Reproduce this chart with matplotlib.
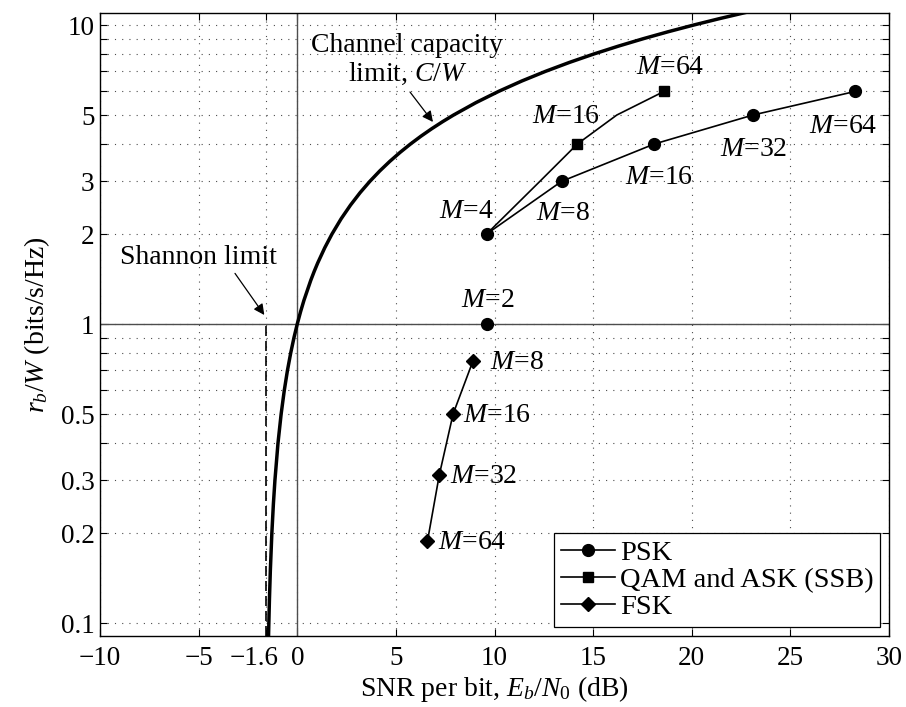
import matplotlib
matplotlib.use('Agg')
import matplotlib.pyplot as plt
from matplotlib.ticker import FixedLocator, NullFormatter
from matplotlib.transforms import ScaledTranslation

# capacity limit C/W: rate (bits/s/Hz) and Eb/N0 (dB)
cap_rate = [0.09, 0.1, 0.12, 0.15, 0.2, 0.25, 0.3, 0.4, 0.5, 0.6, 0.7, 0.8, 0.9,
            1.0, 1.1, 1.2, 1.4, 1.5, 1.6, 1.8, 2.0, 2.25, 2.5, 2.75, 3.0, 3.25,
            3.5, 3.75, 4.0, 4.25, 4.5, 4.75, 5.0, 5.5, 6.0, 6.5, 7.0, 7.5, 8.0,
            8.5, 9.0, 9.5, 10.0, 10.5, 11.0, 11.5, 12.0]
cap_ebn0 = [-1.456, -1.440, -1.410, -1.364, -1.287, -1.210, -1.132, -0.976,
            -0.817, -0.657, -0.496, -0.332, -0.167,
            0.0, 0.169, 0.339, 0.685, 0.860, 1.037, 1.396, 1.761, 2.226, 2.702,
            3.186, 3.680, 4.182, 4.693, 5.213, 5.740, 6.275, 6.818, 7.368,
            7.924, 9.056, 10.212, 11.389, 12.587, 13.803, 15.035, 16.281,
            17.542, 18.815, 20.099, 21.393, 22.697, 24.010, 25.331]

shannon_limit = -1.6

# PSK
psk_M = [4, 8, 16, 32, 64]
psk_ebn0 = [9.6, 13.4, 18.1, 23.1, 28.3]
psk_rate = [2, 3, 4, 5, 6]
bpsk_ebn0 = [9.6]
bpsk_rate = [1]

# QAM and ASK (SSB); markers only on M=16 and M=64
qam_M = [4, 8, 16, 32, 64]
qam_ebn0 = [9.6, 12.3, 14.2, 16.2, 18.6]
qam_rate = [2, 3, 4, 5, 6]

# FSK
fsk_M = [8, 16, 32, 64]
fsk_ebn0 = [8.9, 7.9, 7.2, 6.6]
fsk_rate = [0.75, 0.5, 0.3125, 0.1875]

xticks = [-10, -5, -1.6, 0, 5, 10, 15, 20, 25, 30]
xticklabels = ['\u221210', '\u22125', '\u22121.6', '0', '5', '10', '15', '20', '25', '30']
yticks = [0.1, 0.2, 0.3, 0.5, 1, 2, 3, 5, 10]
yticklabels = ['0.1', '0.2', '0.3', '0.5', '1', '2', '3', '5', '10']
yminor = [0.4, 0.6, 0.7, 0.8, 0.9, 4, 6, 7, 8, 9]

plt.rcParams['font.family'] = ['Liberation Serif', 'DejaVu Serif']
plt.rcParams['mathtext.fontset'] = 'custom'
plt.rcParams['mathtext.rm'] = 'Liberation Serif'
plt.rcParams['mathtext.it'] = 'Liberation Serif:italic'
plt.rcParams['mathtext.bf'] = 'Liberation Serif:bold'
plt.rcParams['font.size'] = 20

fig = plt.figure(figsize=(9.06, 7.07), dpi=100)
ax = fig.add_axes([100 / 906, 1 - 636 / 707, 789 / 906, 623 / 707])
ax.set_yscale('log')
ax.set_xlim(-10, 30)
ax.set_ylim(0.0905, 10.97)

ax.set_axisbelow(True)
ax.xaxis.set_major_locator(FixedLocator(xticks))
ax.set_xticklabels(xticklabels)
ax.yaxis.set_major_locator(FixedLocator(yticks))
ax.set_yticklabels(yticklabels)
ax.yaxis.set_minor_locator(FixedLocator(yminor))
ax.yaxis.set_minor_formatter(NullFormatter())
ax.xaxis.set_minor_locator(FixedLocator([]))

gridkw = dict(color='0.3', linewidth=0.8, linestyle=(0, (1, 5.5)))
ax.grid(True, axis='x', which='major', **gridkw)
ax.grid(True, axis='y', which='both', **gridkw)

ax.tick_params(which='both', direction='in', top=True, right=True,
               length=5, width=0.8)
ax.tick_params(axis='x', pad=7, labelsize=19.5)
ax.tick_params(axis='y', pad=4, labelsize=19.5)
for sp in ax.spines.values():
    sp.set_linewidth(1.0)

# reference lines
ax.axvline(0, color='0.3', lw=1.0, zorder=1.5)
ax.axhline(1, color='0.3', lw=1.0, zorder=1.5)
ax.vlines(shannon_limit, 0.0905, 1, colors='k', lw=1.2,
          linestyles=(0, (6, 3)), zorder=2)

# capacity curve
ax.plot(cap_ebn0, cap_rate, color='k', lw=2.5, zorder=3)

# modulation curves
ax.plot(psk_ebn0, psk_rate, color='k', lw=1.2, marker='o', ms=8.5,
        label='PSK', zorder=4)
ax.plot(bpsk_ebn0, bpsk_rate, color='k', ls='none', marker='o', ms=8.5, zorder=4)
ax.plot(qam_ebn0, qam_rate, color='k', lw=1.2, marker='s', ms=6.5,
        markevery=[2, 4], label='QAM and ASK (SSB)', zorder=4)
ax.plot(fsk_ebn0, fsk_rate, color='k', lw=1.2, marker='D', ms=7,
        label='FSK', zorder=4)

# point labels (offsets in points)
psk_off = [(-15, 16.5), (0.7, -23), (3.2, -23.8), (0.6, -24.7), (-8.8, -25.2)]
for x, y, m, off in zip(psk_ebn0, psk_rate, psk_M, psk_off):
    ax.annotate(r'$M$=%d' % m, (x, y), xytext=off, textcoords='offset points',
                ha='center', va='center')
ax.annotate(r'$M$=2', (bpsk_ebn0[0], bpsk_rate[0]), xytext=(0.7, 17.3),
            textcoords='offset points', ha='center', va='center')
qam_off = {16: (-7.8, 19.7), 64: (4, 17.4)}
for x, y, m in zip(qam_ebn0, qam_rate, qam_M):
    if m in qam_off:
        ax.annotate(r'$M$=%d' % m, (x, y), xytext=qam_off[m],
                    textcoords='offset points', ha='center', va='center')
fsk_off = [(12.7, -0.7), (7, -0.7), (7.9, -0.7), (7.4, -1)]
for x, y, m, off in zip(fsk_ebn0, fsk_rate, fsk_M, fsk_off):
    ax.annotate(r'$M$=%d' % m, (x, y), xytext=off, textcoords='offset points',
                ha='left', va='center')

# text annotations
ax.text(5.56, 8.125, 'Channel capacity', ha='center', va='baseline')
ax.text(5.6, 6.50, r'limit, $C/W$', ha='center', va='baseline')
ax.annotate('', xy=(6.88, 4.74), xytext=(5.716, 5.97),
            arrowprops=dict(arrowstyle='-|>', color='k', lw=0.9,
                            mutation_scale=16, shrinkA=0, shrinkB=0))
ax.text(-5.03, 1.587, 'Shannon limit', ha='center', va='baseline')
ax.annotate('', xy=(-1.67, 1.072), xytext=(-3.156, 1.477),
            arrowprops=dict(arrowstyle='-|>', color='k', lw=0.9,
                            mutation_scale=16, shrinkA=0, shrinkB=0))

ax.set_xlabel(r'SNR per bit, $E_b/N_0$ (dB)', labelpad=2)
ax.set_ylabel(r'$r_b/W$ (bits/s/Hz)', labelpad=6)

leg = ax.legend(loc='lower right', fancybox=False, framealpha=1,
                edgecolor='k', handlelength=1.9, handletextpad=0.15,
                labelspacing=0.05, borderpad=0.25, borderaxespad=0.3,
                fontsize=20.5)
leg.get_frame().set_linewidth(0.9)

# shift the -1.6 label a bit left as in the original
for tick in ax.xaxis.get_major_ticks():
    if tick.get_loc() == -1.6:
        lab = tick.label1
        lab.set_transform(lab.get_transform() +
                          ScaledTranslation(-12 / 100, 0, fig.dpi_scale_trans))

fig.savefig('out.png', dpi=100)
